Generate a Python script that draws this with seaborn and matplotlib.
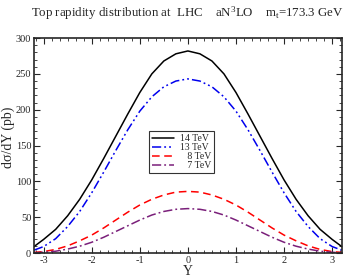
import numpy as np
import pandas as pd
import matplotlib
matplotlib.use('Agg')
import matplotlib.pyplot as plt
from matplotlib.ticker import MultipleLocator, AutoMinorLocator
import seaborn as sns

# rapidity grid and d(sigma)/dY (pb) (curves are symmetric in Y)
rapidity = [-3.2, -3.0, -2.75, -2.5, -2.25, -2.0, -1.75, -1.5, -1.25, -1.0, -0.75, -0.5, -0.25, 0.0,
            0.25, 0.5, 0.75, 1.0, 1.25, 1.5, 1.75, 2.0, 2.25, 2.5, 2.75, 3.0, 3.2]
xs_14 = [9, 19, 33, 52, 75, 102, 132, 163, 194, 224, 250, 268, 278, 282,
         278, 268, 250, 224, 194, 163, 132, 102, 75, 52, 33, 19, 9]
xs_13 = [4, 9, 20, 37, 58, 84, 113, 143, 172, 198, 218, 232, 240, 243,
         240, 232, 218, 198, 172, 143, 113, 84, 58, 37, 20, 9, 4]
xs_8 = [0.8, 2, 5, 10, 17, 25, 35, 46, 57, 67, 75, 81, 85, 86,
        85, 81, 75, 67, 57, 46, 35, 25, 17, 10, 5, 2, 0.8]
xs_7 = [0.3, 1, 2.5, 5.5, 9.5, 15, 22, 30, 38, 46, 53, 58, 61, 62,
        61, 58, 53, 46, 38, 30, 22, 15, 9.5, 5.5, 2.5, 1, 0.3]

labels = ['14 TeV', '13 TeV', '\u2007 8 TeV', '\u2007 7 TeV']
colors = ['black', '#0000ee', '#ff0000', '#7a1f7a']
dashes = ['', (6, 2, 1.2, 2, 1.2, 2), (5, 3), (6, 2, 1.2, 2)]

sns.set_style('ticks')
plt.rcParams['font.family'] = ['Liberation Serif', 'DejaVu Serif']
plt.rcParams['mathtext.fontset'] = 'custom'
plt.rcParams['mathtext.rm'] = 'Liberation Serif'
plt.rcParams['mathtext.it'] = 'Liberation Serif'
plt.rcParams['axes.unicode_minus'] = False

df = pd.concat([
    pd.DataFrame({'Y': rapidity, 'xs': v, 'energy': lab})
    for v, lab in zip([xs_14, xs_13, xs_8, xs_7], labels)
])

fig = plt.figure(figsize=(3.45, 2.77), dpi=100)
ax = fig.add_axes([0.0986, 0.0866, 0.892, 0.776])

sns.lineplot(data=df, x='Y', y='xs', hue='energy', style='energy',
             hue_order=labels, style_order=labels,
             palette=dict(zip(labels, colors)), dashes=dict(zip(labels, dashes)),
             linewidth=1.1, ax=ax)

ax.set_xlim(-3.2, 3.2)
ax.set_ylim(0, 300)
ax.xaxis.set_major_locator(MultipleLocator(1))
ax.xaxis.set_minor_locator(AutoMinorLocator(6))
ax.yaxis.set_major_locator(MultipleLocator(50))
ax.yaxis.set_minor_locator(AutoMinorLocator(5))
ax.tick_params(which='both', direction='in', top=True, right=True, labelsize=7.5, pad=2)
ax.tick_params(which='major', length=4, width=0.8)
ax.tick_params(which='minor', length=2, width=0.6)
for s in ax.spines.values():
    s.set_linewidth(1.2)

ax.set_xlabel('Y', fontsize=10, labelpad=0)
ax.set_ylabel('d\u03c3/dY (pb)', fontsize=10)
ax.yaxis.set_label_coords(-0.062, 0.54)

leg = ax.legend(loc='center', bbox_to_anchor=(0.48, 0.47), fontsize=7, frameon=True,
                fancybox=False, edgecolor='black', handlelength=2.3, borderpad=0.3,
                labelspacing=0.0, handletextpad=0.6, borderaxespad=0)
leg.get_frame().set_linewidth(0.8)

fig.text(0.542, 0.953, 'Top rapidity distribution at  LHC    aN$^3$LO    m$_t$=173.3 GeV',
         ha='center', va='center', fontsize=9.3)

fig.savefig('out.png', dpi=100)
